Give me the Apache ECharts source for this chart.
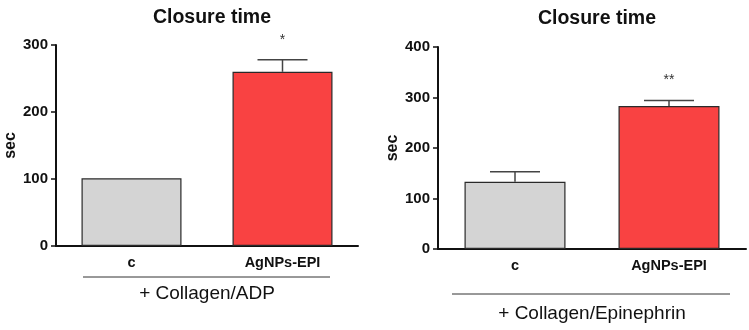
<!DOCTYPE html>
<html>
<head>
<meta charset="utf-8">
<script src="https://cdn.jsdelivr.net/npm/echarts@6/dist/echarts.min.js"></script>
<style>
  html, body { margin: 0; padding: 0; background: #fff; }
  #chart { width: 749px; height: 330px; }
</style>
</head>
<body>
<div id="chart"></div>
<script>
// data
const categories = ['c', 'AgNPs-EPI'];
const adpMeans = [101, 260];
const adpErrors = [0, 18];
const adpStars = ['', '*'];
const epiMeans = [133, 283];
const epiErrors = [20, 11];
const epiStars = ['', '**'];
const barColors = ['#d4d4d4', '#f94242'];

const fontFamily = '"Liberation Sans", Arial, sans-serif';

function errorSeries(axisIdx, means, errors, stars) {
  return {
    type: 'custom',
    xAxisIndex: axisIdx,
    yAxisIndex: axisIdx,
    z: 5,
    data: means.map((m, i) => [i, m, m + errors[i]]),
    renderItem: function (params, api) {
      const base = api.coord([api.value(0), api.value(1)]);
      const top = api.coord([api.value(0), api.value(2)]);
      const half = 25;
      const children = [];
      if (api.value(2) > api.value(1)) {
        children.push({
          type: 'line',
          shape: { x1: base[0], y1: base[1], x2: top[0], y2: top[1] },
          style: { stroke: '#444', lineWidth: 1.5 }
        });
        children.push({
          type: 'line',
          shape: { x1: top[0] - half, y1: top[1], x2: top[0] + half, y2: top[1] },
          style: { stroke: '#444', lineWidth: 1.5 }
        });
      }
      const star = stars[params.dataIndex];
      if (star) {
        children.push({
          type: 'text',
          style: {
            text: star,
            x: top[0],
            y: top[1] - 20,
            align: 'center',
            verticalAlign: 'middle',
            font: '14px ' + fontFamily,
            fill: '#333'
          }
        });
      }
      return { type: 'group', children: children };
    }
  };
}

function barSeries(axisIdx, means, width) {
  return {
    type: 'bar',
    xAxisIndex: axisIdx,
    yAxisIndex: axisIdx,
    barWidth: width,
    data: means.map((v, i) => ({
      value: v,
      itemStyle: { color: barColors[i], borderColor: '#2a2a2a', borderWidth: 1.2 }
    }))
  };
}

function yAxis(idx, max, gap) {
  return {
    type: 'value',
    gridIndex: idx,
    min: 0,
    max: max,
    interval: 100,
    name: 'sec',
    nameLocation: 'middle',
    nameRotate: 90,
    nameGap: gap,
    nameTextStyle: { fontWeight: 'bold', fontSize: 16, color: '#111', fontFamily: fontFamily },
    axisLine: { show: true, lineStyle: { color: '#111', width: 2 } },
    axisTick: { show: true, length: 5, lineStyle: { color: '#111', width: 1.5 } },
    axisLabel: { fontWeight: 'bold', fontSize: 15, color: '#111', margin: 8, fontFamily: fontFamily },
    splitLine: { show: false }
  };
}

function xAxis(idx, name, gap) {
  return {
    type: 'category',
    gridIndex: idx,
    data: categories,
    name: name,
    nameLocation: 'middle',
    nameGap: gap,
    nameTextStyle: { fontSize: 19, color: '#111', fontFamily: fontFamily },
    axisLine: { show: true, lineStyle: { color: '#111', width: 2 } },
    axisTick: { show: false },
    axisLabel: { fontWeight: 'bold', fontSize: 14.5, color: '#111', margin: 9, fontFamily: fontFamily }
  };
}

const chart = echarts.init(document.getElementById('chart'));
chart.setOption({
  animation: false,
  backgroundColor: '#fff',
  title: [
    { text: 'Closure time', left: 207, top: 3, textAlign: 'center',
      textStyle: { fontWeight: 'bold', fontSize: 19.5, color: '#111', fontFamily: fontFamily } },
    { text: 'Closure time', left: 592, top: 4, textAlign: 'center',
      textStyle: { fontWeight: 'bold', fontSize: 19.5, color: '#111', fontFamily: fontFamily } }
  ],
  grid: [
    { left: 56, right: 391, top: 45, bottom: 84 },
    { left: 438, right: 3, top: 47, bottom: 81 }
  ],
  xAxis: [
    xAxis(0, '+ Collagen/ADP', 38),
    xAxis(1, '+ Collagen/Epinephrin', 55)
  ],
  yAxis: [yAxis(0, 300, 35), yAxis(1, 400, 37)],
  graphic: [
    { type: 'line', shape: { x1: 83, y1: 277, x2: 330, y2: 277 }, style: { stroke: '#333', lineWidth: 1 } },
    { type: 'line', shape: { x1: 452, y1: 294, x2: 730, y2: 294 }, style: { stroke: '#333', lineWidth: 1 } }
  ],
  series: [
    barSeries(0, adpMeans, 100),
    errorSeries(0, adpMeans, adpErrors, adpStars),
    barSeries(1, epiMeans, 101),
    errorSeries(1, epiMeans, epiErrors, epiStars)
  ]
});
</script>
</body>
</html>
